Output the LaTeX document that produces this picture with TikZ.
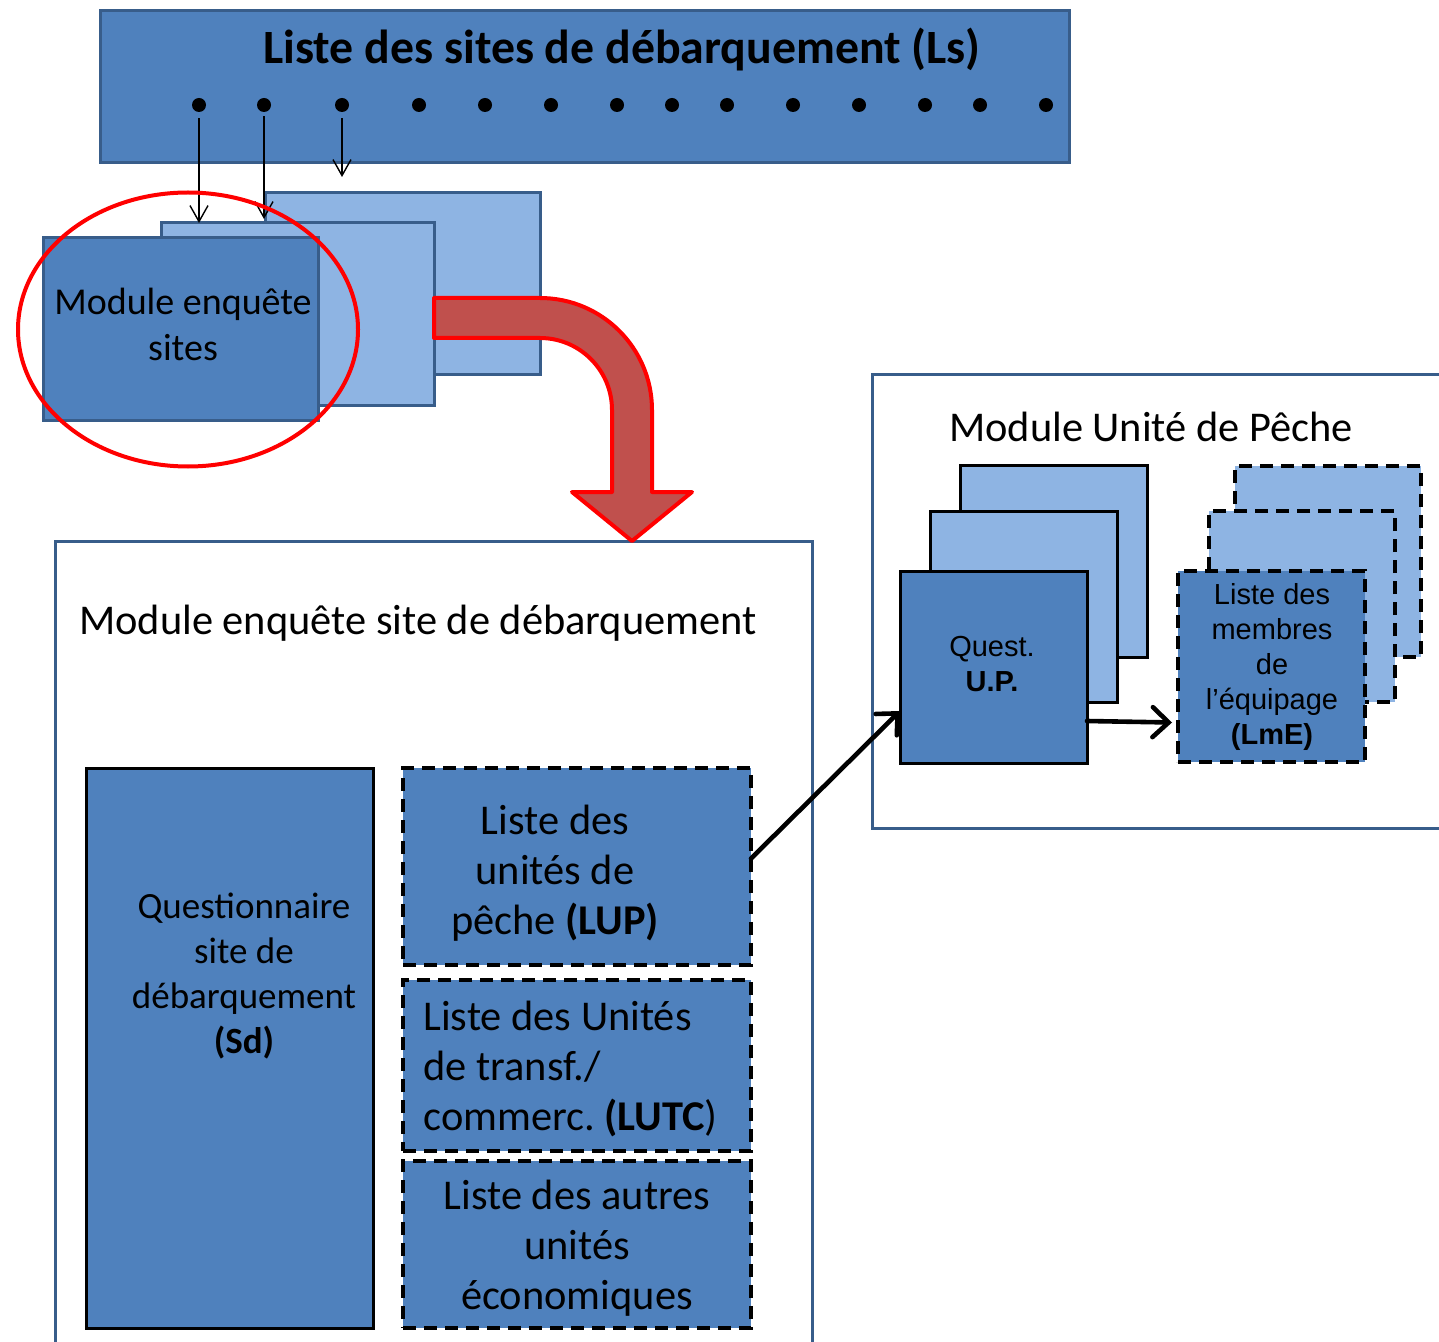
\documentclass[tikz,border=0pt]{standalone}
\usepackage{fontspec}
\setmainfont{Carlito}
\newfontfamily\arialf{Liberation Sans}
\usetikzlibrary{arrows.meta,fit}
\definecolor{medblue}{HTML}{4F81BD}
\definecolor{lightblue}{HTML}{8EB4E3}
\definecolor{edgeblue}{HTML}{385D8A}
\definecolor{redfill}{HTML}{C0504D}
\frenchspacing
\begin{document}
\begin{tikzpicture}[x=0.5pt,y=-0.5pt,
  box/.style={inner sep=0pt, outer sep=0pt, line width=1.5pt},
  sitebox/.style={box, draw=edgeblue, fill=medblue},
  sitelight/.style={box, draw=edgeblue, fill=lightblue},
  frame/.style={box, draw=edgeblue, fill=white},
  solidbox/.style={box, draw=black, fill=medblue},
  solidlight/.style={box, draw=black, fill=lightblue},
  dashbox/.style={box, line width=1.7pt, draw=black, fill=medblue, dash pattern=on 6.5pt off 4pt},
  dashlight/.style={box, line width=1.7pt, draw=black, fill=lightblue, dash pattern=on 6.5pt off 4pt},
  dotnode/.style={circle, fill=black, minimum size=7pt, inner sep=0pt},
  thinarrow/.style={-{Straight Barb[length=8pt,width=9pt]}, line width=0.7pt},
  thickarrow/.style={-{Straight Barb[length=8pt,width=15pt,line cap=round]}, line width=2.3pt, line cap=round},
  txt/.style={inner sep=0pt, align=center, text=black},
  bigtxt/.style={txt, font=\fontsize{21.2}{25}\selectfont},
  ariatxt/.style={txt, font=\arialf\fontsize{14.5}{17.5}\selectfont}
]
\clip (0,0) rectangle (1439,1342);
\fill[white] (0,0) rectangle (1439,1342);

% top bar
\node[sitebox, fit={(100,11) (1069,163)}] (ls) {};
\node[txt, font=\bfseries\fontsize{23.9}{28}\selectfont] (lstitle) at (622,50) {Liste des sites de débarquement (Ls)};
\foreach \x [count=\i] in {199,264,342,419,485,551,617,672,727,793,859,925,980,1046}
  \node[dotnode] (d\i) at (\x,105) {};

% stacked site modules
\node[sitelight, fit={(265,193) (540,375)}] (b3) {};
\node[sitelight, fit={(161,223) (434,405)}] (b2) {};
\node[sitebox, fit={(43,238) (318,420)}] (b1) {};
\node[txt, font=\fontsize{19}{23}\selectfont] (b1t) at (183,324) {Module enquête\\sites};

% thin arrows
\draw[thinarrow] ([yshift=-3pt]d1.south) -- (d1 |- b2.north);
\draw[thinarrow] ([yshift=-2pt]d2.south) -- ([yshift=2pt]d2 |- b2.north);
\draw[thinarrow] ([yshift=-3pt]d3.south) -- ([yshift=8pt]d3 |- b3.north);

% big frame
\node[frame, fit={(55,541) (812,1370)}] (site) {};
\node[bigtxt] (sitetitle) at (418,623) {Module enquête site de débarquement};

% red curved arrow
\draw[line width=2pt, draw=red, fill=redfill, line join=round]
  (434,298) -- (540,298) arc[start angle=-90, end angle=0, radius=112]
  -- (652,492) -- (692,492) -- (632,541) -- (572,492) -- (612,492) -- (612,410)
  arc[start angle=0, end angle=-90, radius=72] -- (434,338) -- cycle;

% inner boxes of big frame
\node[solidbox, fit={(86,768) (373,1328)}] (sd) {};
\node[txt, font=\fontsize{18.5}{22.5}\selectfont] (sdt) at (244,976) {Questionnaire\\site de\\débarquement\\\textbf{(Sd)}};
\node[dashbox, fit={(403,768) (751,965)}] (lup) {};
\node[bigtxt] (lupt) at (555,873) {Liste des\\unités de\\pêche \textbf{(LUP)}};
\node[dashbox, fit={(403,980) (751,1151)}] (lutc) {};
\node[bigtxt, align=left, anchor=west] (lutct) at (423,1069) {Liste des Unités\\de transf./\\commerc. \textbf{(LUTC})};
\node[dashbox, fit={(403,1161) (751,1328)}] (autres) {};
\node[bigtxt] (autrest) at (577,1248) {Liste des autres\\unités\\économiques};

% right frame
\node[frame, fit={(872,375) (1470,828)}] (upmod) {};
\node[bigtxt] (uptitle) at (1151,427) {Module Unité de Pêche};
\node[solidlight, fit={(960,465) (1147,657)}] (up3) {};
\node[solidlight, fit={(930,511) (1117,702)}] (up2) {};
\node[solidbox, fit={(900,571) (1087,763)}] (up1) {};
\node[ariatxt] (up1t) at (992,664) {Quest.\\\textbf{U.P.}};
\node[dashlight, fit={(1235,466) (1421,657)}] (lme3) {};
\node[dashlight, fit={(1209,511) (1395,702)}] (lme2) {};
\node[dashbox, fit={(1178,571) (1365,762)}] (lme1) {};
\node[ariatxt] (lme1t) at (1272,667) {Liste des\\membres\\de\\l’équipage\\\textbf{(LmE)}};

% connectors
\draw[thickarrow] ([yshift=4pt]lup.east) -- ([yshift=-22pt]up1.west);
\draw[thickarrow] ([yshift=-27pt]up1.east) -- ([xshift=-3pt,yshift=-28pt]lme1.west);

% red ellipse
\draw[red, line width=2pt] (188,329.5) ellipse[x radius=170, y radius=137];
\end{tikzpicture}
\end{document}
